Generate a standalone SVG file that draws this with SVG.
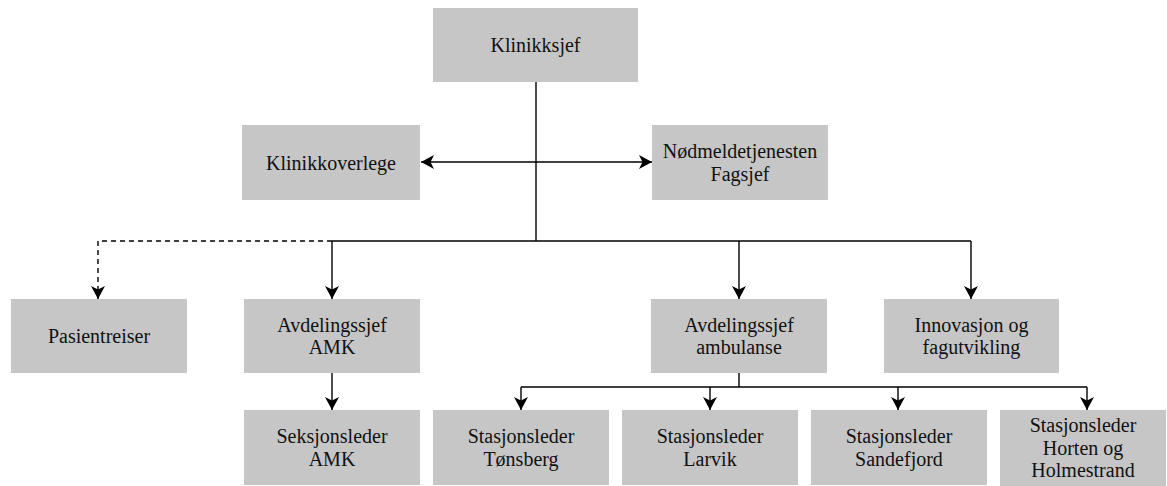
<svg xmlns="http://www.w3.org/2000/svg" width="1167" height="486" viewBox="0 0 1167 486">
  <style>
    .box { fill: #c6c6c6; }
    text { font-family: 'Liberation Serif', 'Times New Roman', Times, serif; font-size: 20px; fill: #111; text-anchor: middle; }
    .wire { fill: none; stroke: #000; stroke-width: 1.4; }
    .dash { stroke-dasharray: 5 4; }
  </style>
  <defs>
    <marker id="head" viewBox="0 0 13 14" refX="13" refY="7" markerWidth="13" markerHeight="14" markerUnits="userSpaceOnUse" orient="auto-start-reverse">
      <path d="M0,0 L13,7 L0,14 L3.5,7 Z" fill="#000"/>
    </marker>
  </defs>
  <rect width="1167" height="486" fill="#fff"/>

  <g id="connectors">
    <!-- trunk from the top node -->
    <path class="wire" d="M536,82 V241"/>
    <!-- staff links left and right -->
    <path class="wire" d="M421,162 H652" marker-start="url(#head)" marker-end="url(#head)"/>
    <!-- main bus -->
    <path class="wire" d="M332,241 H971"/>
    <path class="wire dash" d="M332,241 H98 V299" marker-end="url(#head)"/>
    <path class="wire" d="M332,241 V299" marker-end="url(#head)"/>
    <path class="wire" d="M739,241 V299" marker-end="url(#head)"/>
    <path class="wire" d="M971,241 V299" marker-end="url(#head)"/>
    <!-- AMK section -->
    <path class="wire" d="M332,373 V410" marker-end="url(#head)"/>
    <!-- ambulance stations -->
    <path class="wire" d="M739,373 V387"/>
    <path class="wire" d="M521,387 H1087"/>
    <path class="wire" d="M521,387 V410" marker-end="url(#head)"/>
    <path class="wire" d="M710,387 V410" marker-end="url(#head)"/>
    <path class="wire" d="M898,387 V410" marker-end="url(#head)"/>
    <path class="wire" d="M1087,387 V410" marker-end="url(#head)"/>
  </g>

  <g id="klinikksjef">
    <rect class="box" x="433" y="8" width="205" height="74"/>
    <text x="535.5" y="52" font-family="Liberation Serif, serif">Klinikksjef</text>
  </g>
  <g id="klinikkoverlege">
    <rect class="box" x="242" y="125" width="178" height="75"/>
    <text x="331" y="169.5" font-family="Liberation Serif, serif">Klinikkoverlege</text>
  </g>
  <g id="nodmeldetjenesten">
    <rect class="box" x="652" y="125" width="176" height="75"/>
    <text x="740" y="158" font-family="Liberation Serif, serif">Nødmeldetjenesten</text>
    <text x="740" y="180.5" font-family="Liberation Serif, serif">Fagsjef</text>
  </g>
  <g id="pasientreiser">
    <rect class="box" x="11" y="299" width="176" height="74"/>
    <text x="99" y="343" font-family="Liberation Serif, serif">Pasientreiser</text>
  </g>
  <g id="avdelingssjef-amk">
    <rect class="box" x="244" y="299" width="176" height="74"/>
    <text x="332" y="331.5" font-family="Liberation Serif, serif">Avdelingssjef</text>
    <text x="332" y="354" font-family="Liberation Serif, serif">AMK</text>
  </g>
  <g id="avdelingssjef-ambulanse">
    <rect class="box" x="651" y="299" width="176" height="74"/>
    <text x="739" y="331.5" font-family="Liberation Serif, serif">Avdelingssjef</text>
    <text x="739" y="354" font-family="Liberation Serif, serif">ambulanse</text>
  </g>
  <g id="innovasjon">
    <rect class="box" x="884" y="299" width="175" height="74"/>
    <text x="971.5" y="331.5" font-family="Liberation Serif, serif">Innovasjon og</text>
    <text x="971.5" y="354" font-family="Liberation Serif, serif">fagutvikling</text>
  </g>
  <g id="seksjonsleder-amk">
    <rect class="box" x="244" y="410" width="176" height="75"/>
    <text x="332" y="443" font-family="Liberation Serif, serif">Seksjonsleder</text>
    <text x="332" y="465.5" font-family="Liberation Serif, serif">AMK</text>
  </g>
  <g id="stasjon-tonsberg">
    <rect class="box" x="433" y="410" width="176" height="75"/>
    <text x="521" y="443" font-family="Liberation Serif, serif">Stasjonsleder</text>
    <text x="521" y="465.5" font-family="Liberation Serif, serif">Tønsberg</text>
  </g>
  <g id="stasjon-larvik">
    <rect class="box" x="622" y="410" width="176" height="75"/>
    <text x="710" y="443" font-family="Liberation Serif, serif">Stasjonsleder</text>
    <text x="710" y="465.5" font-family="Liberation Serif, serif">Larvik</text>
  </g>
  <g id="stasjon-sandefjord">
    <rect class="box" x="811" y="410" width="176" height="75"/>
    <text x="899" y="443" font-family="Liberation Serif, serif">Stasjonsleder</text>
    <text x="899" y="465.5" font-family="Liberation Serif, serif">Sandefjord</text>
  </g>
  <g id="stasjon-horten">
    <rect class="box" x="1000" y="410" width="166" height="76"/>
    <text x="1083" y="432" font-family="Liberation Serif, serif">Stasjonsleder</text>
    <text x="1083" y="454.5" font-family="Liberation Serif, serif">Horten og</text>
    <text x="1083" y="477" font-family="Liberation Serif, serif">Holmestrand</text>
  </g>
</svg>
